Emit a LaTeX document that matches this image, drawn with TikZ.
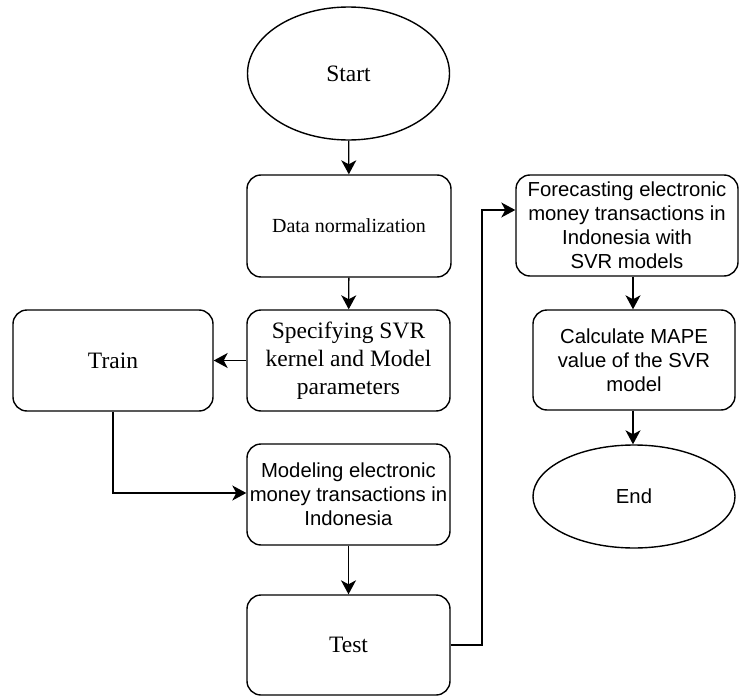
\documentclass[tikz,border=0pt]{standalone}
\usepackage{fontspec}
\setmainfont{Liberation Serif}
\newfontfamily\arialf{Liberation Sans}
\usetikzlibrary{arrows.meta,shapes.geometric,positioning}
\begin{document}
\begin{tikzpicture}[x=1pt,y=-1pt,
  box/.style={draw,line width=1.4pt,rounded corners=14pt,align=center,inner sep=0pt},
  oval/.style={draw,line width=1.4pt,ellipse,inner sep=0pt,align=center},
  conn/.style={line width=1.4pt,-{Stealth[length=14pt,width=15pt,inset=4pt]}},
  serif23/.style={font=\fontsize{23.5}{28}\selectfont},
  serif20/.style={font=\fontsize{20}{24}\selectfont},
  sans20/.style={font=\arialf\fontsize{20.3}{24}\selectfont}]
\useasboundingbox (0,0) rectangle (740,696);
\node[oval,serif23,minimum width=202pt,minimum height=133pt] (start) at (348.5,73.5) {Start};
\node[box,serif20,minimum width=204pt,minimum height=102pt] (data) at (349,226) {Data normalization};
\node[box,serif23,minimum width=203pt,minimum height=101pt] (spec) at (348.5,360.5) {Specifying SVR\\kernel and Model\\parameters};
\node[box,serif23,minimum width=200pt,minimum height=101pt] (train) at (113,360.5) {Train};
\node[box,sans20,minimum width=203pt,minimum height=101pt] (model) at (348.5,494.5) {Modeling electronic\\money transactions in\\Indonesia};
\node[box,serif23,minimum width=203pt,minimum height=100pt] (test) at (348.5,645) {Test};
\node[box,sans20,minimum width=222pt,minimum height=101pt] (fore) at (627,225.5) {Forecasting electronic\\money transactions in\\Indonesia with\\SVR models};
\node[box,sans20,minimum width=202pt,minimum height=100pt] (calc) at (634,360) {Calculate MAPE\\value of the SVR\\model};
\node[oval,sans20,minimum width=202pt,minimum height=103pt] (end) at (634,496.5) {End};
\coordinate (tj) at (482,645);
\coordinate (fj) at (482,210);
\draw[conn] (start) -- (data);
\draw[conn] (data) -- (spec);
\draw[conn] (spec) -- (train);
\draw[conn] (train.south) |- (model.west |- 0,493);
\draw[conn] (model) -- (test);
\draw[conn] (test.east) -- (tj) -- (fj) -- (fore.west |- fj);
\draw[conn] (fore.south -| 633,0) -- (calc.north -| 633,0);
\draw[conn] (calc.south -| 633,0) -- (end.north -| 633,0);
\end{tikzpicture}
\end{document}
